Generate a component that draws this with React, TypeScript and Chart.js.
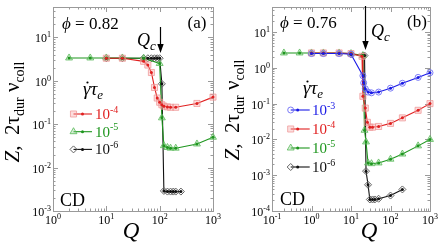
import React, { useEffect, useRef } from 'react';
import { Chart, registerables } from 'chart.js';
Chart.register(...registerables);

const FONT = '"Liberation Serif", "Times New Roman", "DejaVu Serif", serif';
const fnt = (size: number, style = '') => `${style} ${size}px ${FONT}`.trim();

// ---------- Panel (a): phi = 0.82 ----------
const A_X_EXP = [0, 1, 2, 3];
const A_Y_EXP = [-3, -2, -1, 0, 1];
const A_X_MIN = 1, A_X_MAX = 1000;
const A_Y_MIN = 1e-3, A_Y_MAX = 50;
const A_QC = 100;
const A_RATES = [-4, -5, -6];
const A_Q_R4 = [10, 20, 50, 60, 70, 80, 90, 100, 110, 120, 140, 160, 200, 500, 1000];
const A_Z_R4 = [3.3, 3.3, 2.8, 2.3, 1.55, 0.7, 0.4, 0.32, 0.28, 0.26, 0.25, 0.245, 0.245, 0.3, 0.42];
const A_Q_R5 = [2, 5, 10, 20, 50, 100, 110, 120, 140, 160, 200, 500, 1000];
const A_Z_R5 = [3.35, 3.35, 3.35, 3.35, 3.3, 2.5, 0.14, 0.032, 0.029, 0.028, 0.028, 0.035, 0.05];
const A_Q_R6 = [10, 20, 50, 60, 70, 80, 90, 100, 110, 120, 140, 160, 180, 200, 250];
const A_Z_R6 = [3.3, 3.3, 3.3, 3.3, 3.3, 3.3, 3.3, 3.3, 0.85, 0.0029, 0.0028, 0.0028, 0.0028, 0.0028, 0.0028];

// ---------- Panel (b): phi = 0.76 ----------
const B_X_EXP = [-1, 0, 1, 2, 3];
const B_Y_EXP = [-4, -3, -2, -1, 0, 1];
const B_X_MIN = 0.1, B_X_MAX = 1000;
const B_Y_MIN = 1e-4, B_Y_MAX = 50;
const B_QC = 23;
const B_RATES = [-3, -4, -5, -6];
const B_Q_R3 = [1, 2, 5, 10, 20, 21, 23, 27, 33, 50, 100, 200, 500, 1000];
const B_Z_R3 = [2.5, 2.5, 2.5, 2.4, 0.6, 0.38, 0.26, 0.21, 0.2, 0.21, 0.27, 0.37, 0.54, 0.73];
const B_Q_R4 = [1, 2, 5, 10, 19, 20, 23, 26, 30, 35, 50, 100, 200, 500, 1000];
const B_Z_R4 = [2.6, 2.6, 2.6, 2.5, 2.1, 0.16, 0.075, 0.03, 0.022, 0.022, 0.023, 0.028, 0.04, 0.065, 0.1];
const B_Q_R5 = [0.2, 0.5, 1, 2, 5, 10, 20, 22, 24, 27, 33, 50, 100, 200, 500, 1000];
const B_Z_R5 = [2.6, 2.6, 2.6, 2.6, 2.6, 2.5, 2.2, 0.018, 0.0085, 0.0022, 0.0021, 0.0022, 0.0028, 0.0039, 0.0066, 0.01];
const B_Q_R6 = [10, 20, 22, 24, 27, 30, 35, 40, 50, 100, 200];
const B_Z_R6 = [2.4, 2.2, 2.2, 0.0013, 0.00054, 0.00021, 0.00021, 0.00021, 0.00022, 0.00027, 0.0004];

type Style = { line: string; fill: string; border: string; shape: string; r: number };
const STYLES: Record<string, Style> = {
  '-3': { line: '#1a1ae6', fill: 'rgba(255,255,255,0)', border: 'rgba(110,110,245,0.9)', shape: 'circle', r: 3 },
  '-4': { line: '#e02020', fill: 'rgba(245,160,160,0.35)', border: 'rgba(238,145,145,0.7)', shape: 'rect', r: 4.3 },
  '-5': { line: '#1e961e', fill: 'rgba(140,210,140,0.35)', border: 'rgba(90,185,90,0.8)', shape: 'triangle', r: 4 },
  '-6': { line: '#111111', fill: 'rgba(255,255,255,0)', border: '#606060', shape: 'rectRot', r: 3.5 },
};

type Series = { rate: number; q: number[]; z: number[] };

type PanelCfg = {
  xExp: number[]; yExp: number[];
  xMin: number; xMax: number; yMin: number; yMax: number;
  qc: number; rates: number[]; series: Series[];
  phi: string; tag: string;
  L: any;
};

const PANEL_A: PanelCfg = {
  xExp: A_X_EXP, yExp: A_Y_EXP, xMin: A_X_MIN, xMax: A_X_MAX, yMin: A_Y_MIN, yMax: A_Y_MAX,
  qc: A_QC, rates: A_RATES,
  series: [
    { rate: -4, q: A_Q_R4, z: A_Z_R4 },
    { rate: -5, q: A_Q_R5, z: A_Z_R5 },
    { rate: -6, q: A_Q_R6, z: A_Z_R6 },
  ],
  phi: '0.82', tag: '(a)',
  L: {
    pad: { left: 53, right: 230, top: 7, bottom: 32 },
    titleX: 19, titleY: 112, qX: 131,
    phiX: 62, phiY: 28.5, tagX: 197, tagY: 28, cdX: 60, cdY: 206,
    qcTextX: 137, qcTextY: 46, arrowTop: 27, arrowBottom: 53,
    legTitleX: 83, legTitleY: 95, legMarkX: 73.5, legDot: 9, legEnd: 18.5, legTextX: 95,
    legY0: 114, legStep: 17.7,
  },
};

const PANEL_B: PanelCfg = {
  xExp: B_X_EXP, yExp: B_Y_EXP, xMin: B_X_MIN, xMax: B_X_MAX, yMin: B_Y_MIN, yMax: B_Y_MAX,
  qc: B_QC, rates: B_RATES,
  series: [
    { rate: -3, q: B_Q_R3, z: B_Z_R3 },
    { rate: -4, q: B_Q_R4, z: B_Z_R4 },
    { rate: -5, q: B_Q_R5, z: B_Z_R5 },
    { rate: -6, q: B_Q_R6, z: B_Z_R6 },
  ],
  phi: '0.76', tag: '(b)',
  L: {
    pad: { left: 272, right: 13, top: 7, bottom: 32 },
    titleX: 239, titleY: 110, qX: 369,
    phiX: 280, phiY: 27.5, tagX: 417, tagY: 27, cdX: 280, cdY: 205,
    qcTextX: 371, qcTextY: 37, arrowTop: 6, arrowBottom: 50,
    legTitleX: 303, legTitleY: 94, legMarkX: 290.7, legDot: 7, legEnd: 19, legTextX: 312,
    legY0: 110, legStep: 19,
  },
};

type Run = { t: string; f: string; dy?: number };
function runsWidth(ctx: CanvasRenderingContext2D, runs: Run[]) {
  let w = 0;
  for (const r of runs) { ctx.font = r.f; w += ctx.measureText(r.t).width; }
  return w;
}
function drawRuns(ctx: CanvasRenderingContext2D, runs: Run[], x: number, y: number) {
  let cx = x;
  ctx.textAlign = 'left';
  ctx.textBaseline = 'alphabetic';
  for (const r of runs) {
    ctx.font = r.f;
    ctx.fillText(r.t, cx, y + (r.dy || 0));
    cx += ctx.measureText(r.t).width;
  }
  return cx;
}
function powRuns(e: number, size: number): Run[] {
  return [
    { t: '10', f: fnt(size) },
    { t: String(e), f: fnt(Math.round(size * 0.68)), dy: -size * 0.42 },
  ];
}

function drawMarker(ctx: CanvasRenderingContext2D, shape: string, x: number, y: number, r: number, fill: string, stroke: string) {
  ctx.beginPath();
  if (shape === 'circle') {
    ctx.arc(x, y, r, 0, Math.PI * 2);
  } else if (shape === 'rect') {
    const s = Math.SQRT1_2 * r;
    ctx.rect(x - s, y - s, 2 * s, 2 * s);
  } else if (shape === 'triangle') {
    let a = 0;
    ctx.moveTo(x + Math.sin(a) * r, y - Math.cos(a) * r);
    a += (2 * Math.PI) / 3;
    ctx.lineTo(x + Math.sin(a) * r, y - Math.cos(a) * r);
    a += (2 * Math.PI) / 3;
    ctx.lineTo(x + Math.sin(a) * r, y - Math.cos(a) * r);
    ctx.closePath();
  } else {
    ctx.moveTo(x - r, y);
    ctx.lineTo(x, y - r);
    ctx.lineTo(x + r, y);
    ctx.lineTo(x, y + r);
    ctx.closePath();
  }
  ctx.fillStyle = fill;
  ctx.fill();
  ctx.strokeStyle = stroke;
  ctx.lineWidth = 1;
  ctx.stroke();
}

function logTicks(min: number, max: number) {
  const out: { v: number; major: boolean }[] = [];
  for (let e = Math.floor(Math.log10(min)); e <= Math.ceil(Math.log10(max)); e++) {
    for (let m = 1; m <= 9; m++) {
      const v = m * Math.pow(10, e);
      if (v >= min * 0.999 && v <= max * 1.001) out.push({ v, major: m === 1 });
    }
  }
  return out;
}

function makePlugin(cfg: PanelCfg) {
  const L = cfg.L;
  return {
    id: 'panelDecor',
    beforeDatasetsDraw(chart: any) {
      const ctx: CanvasRenderingContext2D = chart.ctx;
      const { left, right, top, bottom } = chart.chartArea;
      const xs = chart.scales.x, ys = chart.scales.y;
      ctx.save();
      ctx.strokeStyle = '#9a9a9a';
      ctx.lineWidth = 1;
      ctx.strokeRect(Math.round(left) + 0.5, Math.round(top) + 0.5, Math.round(right - left), Math.round(bottom - top));
      ctx.beginPath();
      for (const t of logTicks(cfg.xMin, cfg.xMax)) {
        const px = Math.round(xs.getPixelForValue(t.v)) + 0.5;
        const len = t.major ? 5 : 2.5;
        ctx.moveTo(px, bottom); ctx.lineTo(px, bottom - len);
        ctx.moveTo(px, top); ctx.lineTo(px, top + len);
      }
      for (const t of logTicks(cfg.yMin, cfg.yMax)) {
        const py = Math.round(ys.getPixelForValue(t.v)) + 0.5;
        const len = t.major ? 5 : 2.5;
        ctx.moveTo(left, py); ctx.lineTo(left + len, py);
        ctx.moveTo(right, py); ctx.lineTo(right - len, py);
      }
      ctx.stroke();
      ctx.restore();
    },
    afterDatasetsDraw(chart: any) {
      const ctx: CanvasRenderingContext2D = chart.ctx;
      const { left, bottom } = chart.chartArea;
      const xs = chart.scales.x, ys = chart.scales.y;
      ctx.save();
      ctx.fillStyle = '#000';
      // tick labels
      for (const e of cfg.xExp) {
        const px = xs.getPixelForValue(Math.pow(10, e));
        const runs = powRuns(e, 12);
        const w = runsWidth(ctx, runs);
        drawRuns(ctx, runs, px - w / 2, bottom + 13);
      }
      for (const e of cfg.yExp) {
        const py = ys.getPixelForValue(Math.pow(10, e));
        const runs = powRuns(e, 12);
        const w = runsWidth(ctx, runs);
        drawRuns(ctx, runs, left - 2 - w, py + 5);
      }
      // x title
      {
        const runs: Run[] = [{ t: 'Q', f: fnt(23, 'italic') }];
        const w = runsWidth(ctx, runs);
        drawRuns(ctx, runs, L.qX - w / 2, 238);
      }
      // y title
      {
        ctx.save();
        ctx.translate(L.titleX, L.titleY);
        ctx.rotate(-Math.PI / 2);
        const runs: Run[] = [
          { t: 'Z', f: fnt(21, 'italic') },
          { t: ',  2', f: fnt(21) },
          { t: 'τ', f: fnt(21) },
          { t: 'dur', f: fnt(14), dy: 5 },
          { t: ' ν', f: fnt(21) },
          { t: 'coll', f: fnt(14), dy: 5 },
        ];
        const w = runsWidth(ctx, runs);
        drawRuns(ctx, runs, -w / 2, 0);
        ctx.restore();
      }
      // phi label
      drawRuns(ctx, [{ t: 'ϕ', f: fnt(17, 'italic') }, { t: ' = ' + cfg.phi, f: fnt(17) }], L.phiX, L.phiY);
      // tag
      {
        const runs: Run[] = [{ t: cfg.tag, f: fnt(17) }];
        const w = runsWidth(ctx, runs);
        drawRuns(ctx, runs, L.tagX - w / 2, L.tagY);
      }
      // CD
      drawRuns(ctx, [{ t: 'CD', f: fnt(18) }], L.cdX, L.cdY);
      // Qc text + arrow
      drawRuns(ctx, [{ t: 'Q', f: fnt(18, 'italic') }, { t: 'c', f: fnt(13, 'italic'), dy: 4 }], L.qcTextX, L.qcTextY);
      {
        const ax = Math.round(xs.getPixelForValue(cfg.qc)) + 0.5;
        ctx.strokeStyle = '#000';
        ctx.lineWidth = 1.2;
        ctx.beginPath();
        ctx.moveTo(ax, L.arrowTop);
        ctx.lineTo(ax, L.arrowBottom - 6);
        ctx.stroke();
        ctx.beginPath();
        ctx.moveTo(ax - 3.2, L.arrowBottom - 9);
        ctx.lineTo(ax + 3.2, L.arrowBottom - 9);
        ctx.lineTo(ax, L.arrowBottom);
        ctx.closePath();
        ctx.fillStyle = '#000';
        ctx.fill();
      }
      // legend title: gamma-dot tau_e
      {
        ctx.fillStyle = '#000';
        const x0 = L.legTitleX, y0 = L.legTitleY;
        ctx.font = fnt(19, 'italic');
        const gw = ctx.measureText('γ').width;
        drawRuns(ctx, [
          { t: 'γ', f: fnt(19, 'italic') },
          { t: 'τ', f: fnt(19, 'italic') },
          { t: 'e', f: fnt(13, 'italic'), dy: 4 },
        ], x0, y0);
        ctx.beginPath();
        ctx.arc(x0 + gw * 0.6, y0 - 12.5, 1.1, 0, Math.PI * 2);
        ctx.fill();
      }
      // legend entries
      cfg.rates.forEach((rate, i) => {
        const st = STYLES[String(rate)];
        const y = L.legY0 + i * L.legStep;
        const mx = L.legMarkX;
        ctx.strokeStyle = st.line;
        ctx.lineWidth = 1.1;
        ctx.beginPath();
        ctx.moveTo(mx, y);
        ctx.lineTo(mx + L.legEnd, y);
        ctx.stroke();
        drawMarker(ctx, st.shape, mx, y, st.r, st.fill, st.border);
        ctx.beginPath();
        ctx.arc(mx + L.legDot, y, 1.5, 0, Math.PI * 2);
        ctx.fillStyle = st.line;
        ctx.fill();
        ctx.fillStyle = st.line;
        drawRuns(ctx, powRuns(rate, 15), L.legTextX, y + 5);
      });
      ctx.restore();
    },
  };
}

function buildConfig(cfg: PanelCfg): any {
  const lines: any[] = [];
  const dots: any[] = [];
  cfg.series.forEach((s) => {
    const st = STYLES[String(s.rate)];
    const pts = s.q.map((q, i) => ({ x: q, y: s.z[i] }));
    lines.push({
      data: pts,
      borderColor: st.line,
      borderWidth: 1.1,
      pointStyle: st.shape,
      pointRadius: st.r,
      pointBackgroundColor: st.fill,
      pointBorderColor: st.border,
      pointBorderWidth: 1,
      tension: 0,
      clip: false,
      order: 1,
    });
    dots.push({
      data: pts,
      showLine: false,
      pointStyle: 'circle',
      pointRadius: 1.5,
      pointBackgroundColor: st.line,
      pointBorderWidth: 0,
      clip: false,
      order: 0,
    });
  });
  return {
    type: 'line',
    data: { datasets: [...dots, ...lines] },
    options: {
      responsive: false,
      animation: false,
      events: [],
      layout: { padding: cfg.L.pad, autoPadding: false },
      plugins: { legend: { display: false }, tooltip: { enabled: false }, title: { display: false } },
      scales: {
        x: { type: 'logarithmic', min: cfg.xMin, max: cfg.xMax, display: false, bounds: 'data' },
        y: { type: 'logarithmic', min: cfg.yMin, max: cfg.yMax, display: false, bounds: 'data' },
      },
    },
    plugins: [makePlugin(cfg)],
  };
}

function Panel({ cfg }: { cfg: PanelCfg }) {
  const ref = useRef<HTMLCanvasElement>(null);
  useEffect(() => {
    const chart = new Chart(ref.current as HTMLCanvasElement, buildConfig(cfg));
    return () => chart.destroy();
  }, [cfg]);
  return (
    <canvas
      ref={ref}
      width={443}
      height={243}
      style={{ position: 'absolute', left: 0, top: 0, width: 443, height: 243 }}
    />
  );
}

export default function App() {
  return (
    <div style={{ position: 'fixed', left: 0, top: 0, width: 443, height: 243, background: '#fff', overflow: 'hidden' }}>
      <Panel cfg={PANEL_A} />
      <Panel cfg={PANEL_B} />
    </div>
  );
}
